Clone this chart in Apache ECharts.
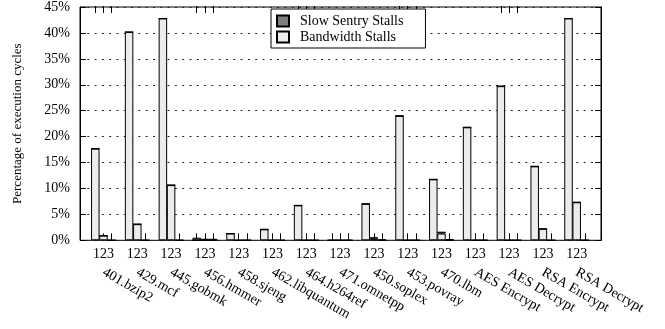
<!DOCTYPE html>
<html>
<head>
<meta charset="utf-8">
<script src="https://cdn.jsdelivr.net/npm/echarts@6/dist/echarts.min.js"></script>
<style>html,body{margin:0;padding:0;background:#fff}#c{width:665px;height:329px}</style>
</head>
<body>
<div id="c"></div>
<script>
var categories = ['401.bzip2','429.mcf','445.gobmk','456.hmmer','458.sjeng','462.libquantum','464.h264ref','471.omnetpp','450.soplex','453.povray','470.lbm','AES Encrypt','AES Decrypt','RSA Encrypt','RSA Decrypt'];
var subLabel = '123';
var bandwidth1 = [17.6, 40.0, 42.6, 0, 1.3, 2.1, 6.7, 0, 7.0, 23.9, 11.7, 21.7, 29.6, 14.2, 42.6];
var bandwidth2 = [0.9, 3.1, 10.6, 0, 0, 0, 0, 0, 0.3, 0, 1.3, 0, 0, 2.2, 7.3];
var bandwidth3 = [0, 0, 0, 0, 0, 0, 0, 0, 0, 0, 0, 0, 0, 0, 0];
var sentry1 = [0, 0, 0, 0.5, 0, 0, 0, 0, 0, 0, 0, 0, 0, 0, 0];
var sentry2 = [0, 0, 0, 0.3, 0, 0, 0, 0, 0.3, 0, 0.35, 0, 0, 0, 0];
var sentry3 = [0, 0, 0, 0.3, 0, 0, 0, 0, 0.15, 0, 0.2, 0, 0, 0, 0];
var yTicks = {min: 0, max: 45, interval: 5};
var seriesNames = ['Slow Sentry Stalls', 'Bandwidth Stalls'];

var FONT = 'Liberation Serif';
var chart = echarts.init(document.getElementById('c'), null, {renderer: 'canvas'});

var bwData = [bandwidth1, bandwidth2, bandwidth3];
var snData = [sentry1, sentry2, sentry3];

var TOP = 6, BOTTOM = 88.7;
var L = 86.6, R = 71.4, STEP = 8.2;

var grids = [{left: 80, right: 64, top: TOP, bottom: BOTTOM, show: true, borderColor: '#000', borderWidth: 1, z: 0}];
var xAxes = [{gridIndex: 0, type: 'value', show: false}];
var yAxes = [
  {gridIndex: 0, type: 'value', min: yTicks.min, max: yTicks.max, interval: yTicks.interval, position: 'left',
   name: 'Percentage of execution cycles', nameLocation: 'middle', nameGap: 56,
   nameTextStyle: {fontFamily: FONT, fontSize: 13, color: '#000'},
   axisLine: {show: true, lineStyle: {color: '#000'}},
   axisTick: {show: true, inside: true, length: 6, lineStyle: {color: '#000'}},
   axisLabel: {formatter: '{value}%', fontFamily: FONT, fontSize: 14, color: '#000', margin: 10},
   splitLine: {show: true, lineStyle: {color: '#222', width: 1, type: [2, 5.3]}}},
  {gridIndex: 0, type: 'value', min: yTicks.min, max: yTicks.max, interval: yTicks.interval, position: 'right',
   axisLine: {show: true, lineStyle: {color: '#000'}},
   axisTick: {show: true, inside: true, length: 6, lineStyle: {color: '#000'}},
   axisLabel: {show: false}, splitLine: {show: false}}
];
var series = [];

for (var j = 0; j < 3; j++) {
  var gi = j + 1;
  var off = (j - 1) * STEP;
  grids.push({left: L + off, right: R - off, top: TOP, bottom: BOTTOM});
  var isMid = (j === 1);
  // bottom tick axis (middle one carries "123" labels)
  xAxes.push({gridIndex: gi, type: 'category', data: categories, position: 'bottom',
    axisLine: {show: false},
    axisTick: {show: true, inside: true, alignWithLabel: true, length: 7, lineStyle: {color: '#000'}},
    axisLabel: {show: isMid, interval: 0, formatter: function () { return subLabel; },
      fontFamily: FONT, fontSize: 14, color: '#000', margin: 7}});
  var bottomIdx = xAxes.length - 1;
  // top tick axis
  xAxes.push({gridIndex: gi, type: 'category', data: categories, position: 'top',
    axisLine: {show: false},
    axisTick: {show: true, inside: true, alignWithLabel: true, length: 7, lineStyle: {color: '#000'}},
    axisLabel: {show: false}});
  if (isMid) {
    xAxes.push({gridIndex: gi, type: 'category', data: categories, position: 'bottom',
      axisLine: {show: false}, axisTick: {show: false},
      axisLabel: {show: true, interval: 0, rotate: -30, fontFamily: FONT, fontSize: 14, color: '#000', margin: 31}});
  }
  yAxes.push({gridIndex: gi, type: 'value', min: yTicks.min, max: yTicks.max, interval: yTicks.interval, show: false});
  var yi = yAxes.length - 1;
  series.push({name: seriesNames[1], type: 'bar', stack: 's' + j, xAxisIndex: bottomIdx, yAxisIndex: yi,
    data: bwData[j], barWidth: 8.5,
    itemStyle: {color: '#ececec', borderColor: '#000', borderWidth: 1}});
  series.push({name: seriesNames[0], type: 'bar', stack: 's' + j, xAxisIndex: bottomIdx, yAxisIndex: yi,
    data: snData[j], barWidth: 8.5,
    itemStyle: {color: '#7f7f7f', borderColor: '#000', borderWidth: 1}});
}

chart.setOption({
  animation: false,
  backgroundColor: '#fff',
  textStyle: {fontFamily: FONT},
  legend: {
    data: seriesNames, orient: 'vertical', left: 271, top: 9,
    backgroundColor: '#fff', borderColor: '#000', borderWidth: 1,
    padding: [5, 22, 4, 5], itemWidth: 12, itemHeight: 11, itemGap: 2,
    icon: 'rect', selectedMode: false, z: 10,
    textStyle: {fontFamily: FONT, fontSize: 14, color: '#000', padding: [0, 0, 0, 6]}
  },
  grid: grids,
  xAxis: xAxes,
  yAxis: yAxes,
  series: series
});
</script>
</body>
</html>
